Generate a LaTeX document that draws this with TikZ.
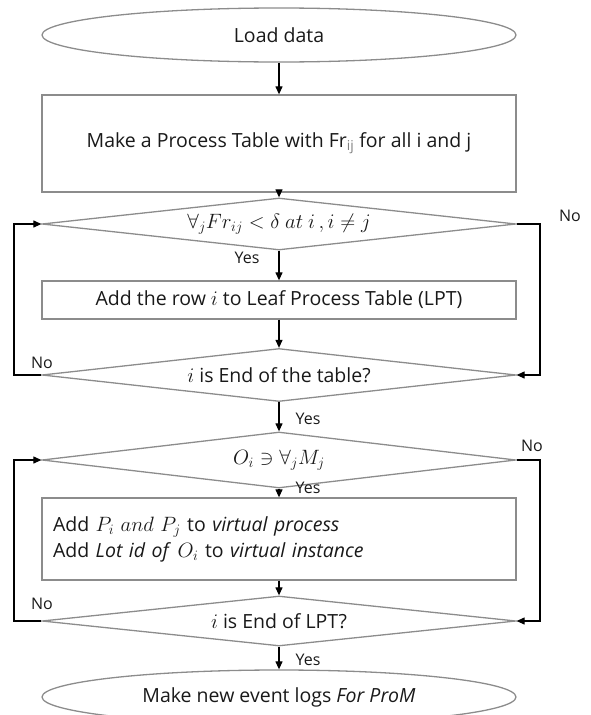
\documentclass[tikz,border=0pt]{standalone}
\usepackage{fontspec}
\setmainfont{Open Sans}
\usetikzlibrary{shapes.geometric,arrows.meta}
\begin{document}
\begin{tikzpicture}[x=1pt,y=-1pt,
  font=\fontsize{19.5}{23}\selectfont,
  every node/.style={text=black!90},
  shp/.style={draw=black!45,line width=1.3pt,inner sep=0pt},
  term/.style={shp,ellipse,minimum width=474,minimum height=54},
  proc/.style={shp,rectangle,minimum width=474},
  decide/.style={shp,diamond,aspect=10,minimum width=474},
  arr/.style={line width=1.2pt,-{Triangle[length=8pt,width=7pt]}},
  lbl/.style={font=\fontsize{16}{19}\selectfont}]
\useasboundingbox (0,0) rectangle (591,715);
\node[term] (start) at (279,35) {Load data};
\node[proc,minimum height=97] (b1) at (279,143.5) {Make a Process Table with Fr{\color{black!50}\textsubscript{ij}} for all i and j};
\node[decide,minimum height=52] (d1) at (279,224) {$\forall_j Fr_{ij} < \delta\ at\ i\,, i \neq j$};
\node[proc,minimum height=38] (b2) at (279,300) {Add the row $i$ to Leaf Process Table (LPT)};
\node[decide,minimum height=53] (d2) at (279,375) {$i$ is End of the table?};
\node[decide,minimum height=56] (d3) at (279,460) {$O_i \ni \forall_j M_j$};
\node[proc,minimum height=82,text width=452,align=left,font=\fontsize{19.5}{26}\selectfont] (b3) at (279,539)
  {Add $P_i\ and\ P_j$ to \textit{virtual process}\\Add \textit{Lot id of} $O_i$ to \textit{virtual instance}};
\node[decide,minimum height=50] (d4) at (279,621) {$i$ is End of LPT?};
\node[term] (stop) at (279,697) {Make new event logs \textit{For ProM}};

\draw[arr] (start) -- (b1);
\draw[arr] (b1) -- (d1);
\draw[arr] (d1) -- (b2);
\draw[arr] (b2) -- (d2);
\draw[arr] (d2) -- (d3);
\draw[arr] (d3) -- (b3);
\draw[arr] (b3) -- (d4);
\draw[arr] (d4) -- (stop);

\coordinate (r1) at (540,224);
\coordinate (l1) at (14,375);
\coordinate (r2) at (540,460);
\coordinate (l2) at (14,621);
\draw[arr] (d1.east) -- (r1) |- (d2.east);
\draw[arr] (d2.west) -- (l1) |- (d1.west);
\draw[arr] (d3.east) -- (r2) |- (d4.east);
\draw[arr] (d4.west) -- (l2) |- (d3.west);

\node[lbl] (no1) at (570,216) {No};
\node[lbl] (yes1) at (247,258) {Yes};
\node[lbl] (no2) at (42,363) {No};
\node[lbl] (yes2) at (308,419) {Yes};
\node[lbl] (no3) at (532,446) {No};
\node[lbl] (yes3) at (308,488) {Yes};
\node[lbl] (no4) at (42,604) {No};
\node[lbl] (yes4) at (308,660) {Yes};
\end{tikzpicture}
\end{document}
